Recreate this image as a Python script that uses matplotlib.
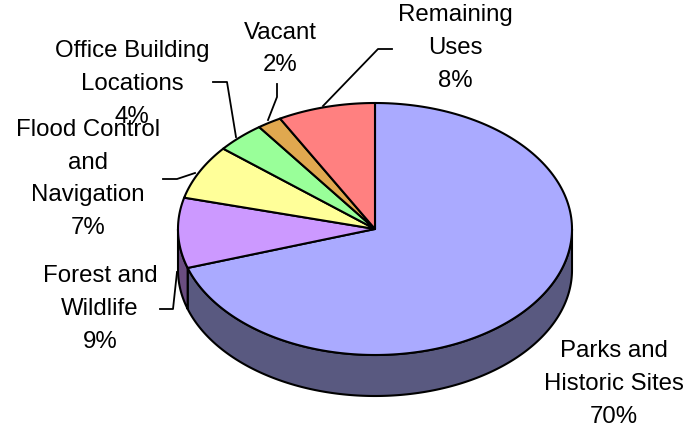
import numpy as np
import matplotlib.pyplot as plt
from matplotlib.patches import Polygon

# Land use shares (percent), clockwise from 12 o'clock
categories = ['Parks and\nHistoric Sites', 'Forest and\nWildlife', 'Flood Control\nand\nNavigation',
              'Office Building\nLocations', 'Vacant', 'Remaining\nUses']
shares = [70, 9, 7, 4, 2, 8]
top_colors = ['#AAAAFF', '#CC99FF', '#FFFF99', '#99FF99', '#E0A84F', '#FF8080']
side_colors = ['#595980', '#6A4D80', '#80804D', '#4D804D', '#705428', '#804040']

# layout of the 3D pie in pixel space
cx, cy = 375, 229
rx, ry = 197, 126
depth = 41

fig = plt.figure(figsize=(7, 4.28), dpi=100)
ax = fig.add_axes([0, 0, 1, 1])
ax.set_xlim(0, 700)
ax.set_ylim(428, 0)
ax.axis('off')


def rim(a0, a1, n=200, dy=0):
    # points on the ellipse edge, angles clockwise from 12 o'clock
    t = np.radians(np.linspace(a0, a1, n))
    return np.column_stack([cx + rx * np.sin(t), cy - ry * np.cos(t) + dy])


bounds = np.concatenate([[0], np.cumsum(shares)]) / sum(shares) * 360

# side walls (only the front half, 90..270 deg, is visible)
for i in range(len(shares)):
    a0, a1 = max(bounds[i], 90), min(bounds[i + 1], 270)
    if a1 <= a0:
        continue
    upper = rim(a0, a1)
    lower = rim(a1, a0, dy=depth)
    ax.add_patch(Polygon(np.vstack([upper, lower]), closed=True, facecolor=side_colors[i],
                         edgecolor='black', linewidth=1.5, joinstyle='round'))

# top faces
for i in range(len(shares)):
    pts = np.vstack([[cx, cy], rim(bounds[i], bounds[i + 1])])
    ax.add_patch(Polygon(pts, closed=True, facecolor=top_colors[i],
                         edgecolor='black', linewidth=1.5, joinstyle='round'))

# labels
label_pos = [(614, 384), (100, 309), (88, 179), (132, 84), (280, 49), (455, 48)]
for name, pct, (lx, ly) in zip(categories, shares, label_pos):
    ax.text(lx, ly, f'{name}\n{pct}%', ha='center', va='center', fontsize=17.3,
            family='Liberation Sans', linespacing=1.62, color='black')

# leader lines
leaders = [
    None,
    [(160, 309), (173, 309), (177, 272)],
    [(163, 179), (177, 179), (195, 173)],
    [(213, 82), (227, 82), (236, 137)],
    [(277, 84), (277, 97), (268, 120)],
    [(392, 49), (378, 49), (323, 106)],
]
for seg in leaders:
    if seg is None:
        continue
    xs, ys = zip(*seg)
    ax.plot(xs, ys, color='black', linewidth=1.3)

fig.savefig('out.png', dpi=100)
